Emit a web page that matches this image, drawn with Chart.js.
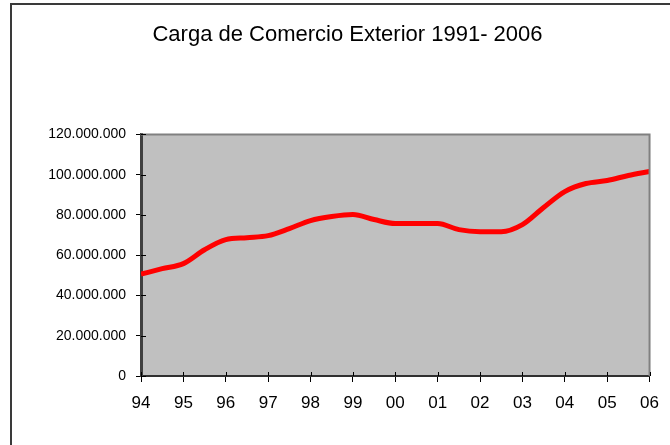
<!DOCTYPE html>
<html>
<head>
<meta charset="utf-8">
<script src="https://cdn.jsdelivr.net/npm/chart.js@4"></script>
<style>
    html, body { margin: 0; padding: 0; background: #fff; overflow: hidden; }
    #wrap { position: relative; width: 670px; height: 445px; }
</style>
</head>
<body>
<div id="wrap"><canvas id="cargaChart" width="670" height="445"></canvas></div>
<script>
// Half-year readings, 1994 - 2006 (years past 99 written as 100+)
const years = [94, 94.5, 95, 95.5, 96, 96.5, 97, 97.5, 98, 98.5, 99, 99.5, 100,
    100.5, 101, 101.5, 102, 102.5, 103, 103.5, 104, 104.5, 105, 105.5, 106];
const carga = [50.6, 53.3, 55.8, 62.7, 67.7, 68.7, 69.7, 73.2, 77.2, 79.2, 80.2, 77.7, 75.7,
    75.7, 75.7, 72.7, 71.7, 71.7, 75.2, 83.7, 91.6, 95.6, 97.1, 99.6, 101.6].map(v => v * 1000000);

const titleText = 'Carga de Comercio Exterior 1991- 2006';
const yTicks = [0, 20000000, 40000000, 60000000, 80000000, 100000000, 120000000];

function fmtMiles(v) {
    return String(v).replace(/\B(?=(\d{3})+(?!\d))/g, '.');
}

function fmtYear(v) {
    return String(v % 100).padStart(2, '0');
}

// plot background, frame, top/right border and the inner half of the tick marks
const plotDeco = {
    id: 'plotDeco',
    beforeDraw(chart) {
        const ctx = chart.ctx;
        const a = chart.chartArea;
        ctx.save();
        ctx.fillStyle = '#c0c0c0';
        ctx.fillRect(a.left, a.top, a.right - a.left, a.bottom - a.top);
        // outer frame (only top and left are visible in the picture)
        ctx.strokeStyle = '#3a3a3a';
        ctx.lineWidth = 2;
        ctx.beginPath();
        ctx.moveTo(11, 445);
        ctx.lineTo(11, 4);
        ctx.lineTo(670, 4);
        ctx.stroke();
        ctx.restore();
    },
    afterDraw(chart) {
        const ctx = chart.ctx;
        const a = chart.chartArea;
        ctx.save();
        ctx.strokeStyle = '#808080';
        ctx.lineWidth = 2;
        ctx.beginPath();
        ctx.moveTo(a.left, a.top);
        ctx.lineTo(a.right, a.top);
        ctx.lineTo(a.right, a.bottom);
        ctx.stroke();

        ctx.strokeStyle = '#000';
        ctx.lineWidth = 1;
        ctx.beginPath();
        chart.scales.y.ticks.forEach(t => {
            const py = Math.round(chart.scales.y.getPixelForValue(t.value)) + 0.5;
            ctx.moveTo(a.left, py);
            ctx.lineTo(a.left + 5, py);
        });
        chart.scales.x.ticks.forEach(t => {
            const px = Math.round(chart.scales.x.getPixelForValue(t.value)) + 0.5;
            ctx.moveTo(px, a.bottom);
            ctx.lineTo(px, a.bottom - 4);
        });
        ctx.stroke();
        ctx.restore();
    }
};

const ctx = document.getElementById('cargaChart').getContext('2d');
new Chart(ctx, {
    type: 'line',
    data: {
        datasets: [{
            label: 'Carga',
            data: years.map((y, i) => ({ x: y, y: carga[i] })),
            borderColor: '#ff0000',
            borderWidth: 5,
            pointRadius: 0,
            cubicInterpolationMode: 'monotone',
            fill: false
        }]
    },
    options: {
        responsive: false,
        animation: false,
        layout: { padding: { left: 42, right: 17, top: 0, bottom: 0 } },
        plugins: {
            legend: { display: false },
            tooltip: { enabled: false },
            title: {
                display: true,
                text: titleText,
                color: '#000',
                font: { family: 'Liberation Sans, Arial, sans-serif', size: 22, weight: 'normal' },
                padding: { top: 22, bottom: 86 }
            }
        },
        scales: {
            x: {
                type: 'linear',
                min: 94,
                max: 106,
                afterBuildTicks: axis => {
                    axis.ticks = years.filter(y => Number.isInteger(y)).map(v => ({ value: v }));
                },
                grid: { drawOnChartArea: false, color: '#000', tickLength: 6 },
                border: { color: '#303030', width: 2 },
                ticks: {
                    color: '#000',
                    padding: 11,
                    maxRotation: 0,
                    font: { family: 'Liberation Sans, Arial, sans-serif', size: 17 },
                    callback: v => fmtYear(v)
                },
                afterFit: axis => { axis.height = 69; }
            },
            y: {
                min: 0,
                max: 120000000,
                afterBuildTicks: axis => {
                    axis.ticks = yTicks.map(v => ({ value: v }));
                },
                grid: { drawOnChartArea: false, color: '#000', tickLength: 5 },
                border: { color: '#404040', width: 3 },
                ticks: {
                    color: '#000',
                    padding: 10,
                    font: { family: 'Liberation Sans, Arial, sans-serif', size: 14 },
                    callback: v => fmtMiles(v)
                },
                afterFit: axis => { axis.width = 99; }
            }
        }
    },
    plugins: [plotDeco]
});
</script>
</body>
</html>
